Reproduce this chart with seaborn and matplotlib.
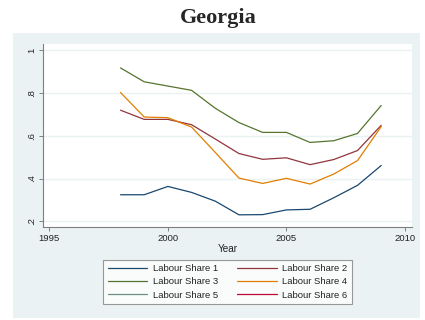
import numpy as np
import pandas as pd
import matplotlib
matplotlib.use("Agg")
import matplotlib.pyplot as plt
from matplotlib.patches import Rectangle
import seaborn as sns

years = [1998, 1999, 2000, 2001, 2002, 2003, 2004, 2005, 2006, 2007, 2008, 2009]
ls1 = [0.324, 0.324, 0.363, 0.335, 0.294, 0.230, 0.231, 0.253, 0.256, 0.310, 0.368, 0.461]
ls2 = [0.720, 0.677, 0.677, 0.652, 0.585, 0.517, 0.490, 0.497, 0.465, 0.489, 0.531, 0.649]
ls3 = [0.918, 0.853, 0.833, 0.813, 0.729, 0.662, 0.616, 0.616, 0.569, 0.577, 0.611, 0.742]
ls4 = [0.803, 0.688, 0.685, 0.641, 0.522, 0.402, 0.377, 0.401, 0.374, 0.421, 0.484, 0.643]
ls5 = [np.nan] * 12
ls6 = [np.nan] * 12
series_names = ["Labour Share 1", "Labour Share 2", "Labour Share 3",
                "Labour Share 4", "Labour Share 5", "Labour Share 6"]
colors = ["#1a476f", "#90353b", "#55752f", "#e37e00", "#6e8e84", "#c10534"]
yticks = [0.2, 0.4, 0.6, 0.8, 1.0]
ytick_labels = [".2", ".4", ".6", ".8", "1"]
xticks = [1995, 2000, 2005, 2010]

sns.set_theme(style="white")
plt.rcParams["font.family"] = ["Liberation Sans", "DejaVu Sans"]

rows = []
for name, vals in zip(series_names, [ls1, ls2, ls3, ls4, ls5, ls6]):
    for yr, v in zip(years, vals):
        rows.append({"Year": yr, "value": v, "series": name})
df = pd.DataFrame(rows)

W, H = 425, 320
fig = plt.figure(figsize=(W / 100, H / 100), dpi=100)
fig.patch.set_facecolor("white")
bg = Rectangle((13 / W, 1 - 318 / H), (420 - 13) / W, (318 - 33) / H,
               transform=fig.transFigure, facecolor="#eaf2f3", edgecolor="none", zorder=-10)
fig.patches.append(bg)

ax = fig.add_axes([43 / W, 1 - 227 / H, (412 - 43) / W, (227 - 44) / H])
ax.set_zorder(1)
ax.set_facecolor("white")

palette = dict(zip(series_names, colors))
for name in series_names:
    sub = df[df["series"] == name]
    if sub["value"].notna().any():
        sns.lineplot(data=sub, x="Year", y="value", color=palette[name], lw=0.9,
                     ax=ax, legend=False)

ax.set_xlim(1994.73, 2010.30)
ax.set_ylim(0.173, 1.030)
ax.set_yticks(yticks)
ax.set_yticklabels(ytick_labels, rotation=90, va="center", fontsize=6.8)
ax.set_xticks(xticks)
ax.set_xticklabels([str(x) for x in xticks], fontsize=6.8)
ax.yaxis.grid(True, color="#eaf2f3", lw=1.0)
ax.xaxis.grid(False)
ax.set_axisbelow(True)
for s in ["top", "right"]:
    ax.spines[s].set_visible(False)
for s in ["left", "bottom"]:
    ax.spines[s].set_color("#7f7f7f")
    ax.spines[s].set_linewidth(0.8)
ax.tick_params(axis="both", direction="out", length=3, width=0.7, color="#7f7f7f",
               labelcolor="#222222", pad=2, left=True, bottom=True)
ax.set_xlabel("Year", fontsize=7.2, labelpad=1, color="#222222")
ax.set_ylabel("")

order = [0, 2, 4, 1, 3, 5]
handles = [plt.Line2D([], [], color=colors[i], lw=0.9) for i in order]
labels = [series_names[i] for i in order]
leg = fig.legend(handles, labels, ncol=2, loc="center",
                 bbox_to_anchor=(227.6 / W, 1 - 282 / H), fontsize=6.8,
                 frameon=True, fancybox=False, edgecolor="#7f7f7f", facecolor="white",
                 handlelength=4.2, handletextpad=0.6, columnspacing=2.0,
                 labelspacing=0.45, borderpad=0.45, borderaxespad=0)
leg.get_frame().set_linewidth(0.8)
for t in leg.get_texts():
    t.set_color("#222222")

fig.text(218 / W, 1 - 18 / H, "Georgia", ha="center", va="center",
         fontsize=16, fontweight="bold", family=["Liberation Serif", "DejaVu Serif"])

fig.savefig("out.png", dpi=100, facecolor="white")
